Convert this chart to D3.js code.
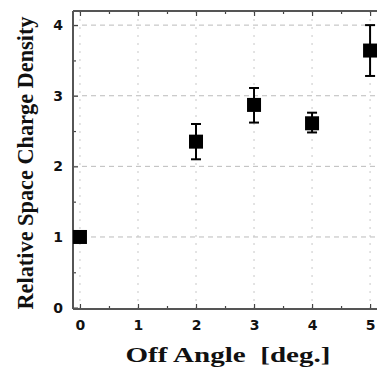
<!DOCTYPE html>
<html>
<head>
<meta charset="utf-8">
<script src="https://cdn.jsdelivr.net/npm/d3@7"></script>
<style>
  body { margin: 0; background: #fff; }
  svg { display: block; }
</style>
</head>
<body>
<script>
// data
var angles = [0, 2, 3, 4, 5];
var density = [1.0, 2.35, 2.87, 2.61, 3.64];
var errLow = [1.0, 2.1, 2.62, 2.48, 3.28];
var errHigh = [1.0, 2.6, 3.11, 2.76, 4.0];
var xTicks = [0, 1, 2, 3, 4, 5];
var yTicks = [0, 1, 2, 3, 4];

var width = 377, height = 367;
var pLeft = 73, pTop = 11, pRight = 384, pBottom = 309;

var svg = d3.select("body").append("svg")
  .attr("width", width)
  .attr("height", height)

var x = d3.scaleLinear().domain([-0.12, 5.24]).range([pLeft, pRight]);
var y = d3.scaleLinear().domain([-0.02, 4.2]).range([pBottom, pTop]);

// dotted grid
svg.append("g").selectAll("line").data(yTicks.slice(1)).enter().append("line")
  .attr("x1", pLeft).attr("x2", pRight)
  .attr("y1", function(d) { return y(d) }).attr("y2", function(d) { return y(d) })
  .attr("stroke", "#bbb").attr("stroke-width", 1).attr("stroke-dasharray", "5,4")

svg.append("g").selectAll("line").data(xTicks).enter().append("line")
  .attr("x1", function(d) { return x(d) }).attr("x2", function(d) { return x(d) })
  .attr("y1", pTop).attr("y2", pBottom)
  .attr("stroke", "#c8c8c8").attr("stroke-width", 1).attr("stroke-dasharray", "2,6")

// axes with inward ticks
var tickFont = "bold 14px 'DejaVu Sans', sans-serif";

var xAxis = svg.append("g").attr("transform", "translate(0," + pBottom + ")")
  .call(d3.axisBottom(x).tickValues(xTicks).tickSize(-5).tickPadding(11).tickFormat(d3.format("d")))
xAxis.select(".domain").remove()
xAxis.selectAll("text").style("font", tickFont).attr("fill", "#111")

svg.append("g").attr("transform", "translate(0," + pBottom + ")")
  .call(d3.axisBottom(x).tickValues(d3.range(0.5, 5.5, 1)).tickSize(-3).tickFormat(""))
  .select(".domain").remove()

var topAxis = svg.append("g").attr("transform", "translate(0," + pTop + ")")
  .call(d3.axisTop(x).tickValues(xTicks).tickSize(-5).tickFormat(""))
topAxis.select(".domain").remove()
svg.append("g").attr("transform", "translate(0," + pTop + ")")
  .call(d3.axisTop(x).tickValues(d3.range(0.5, 5.5, 1)).tickSize(-3).tickFormat(""))
  .select(".domain").remove()

var yAxis = svg.append("g").attr("transform", "translate(" + pLeft + ",0)")
  .call(d3.axisLeft(y).tickValues(yTicks).tickSize(-5).tickPadding(10).tickFormat(d3.format("d")))
yAxis.select(".domain").remove()
yAxis.selectAll("text").style("font", tickFont).attr("fill", "#111")

svg.append("g").attr("transform", "translate(" + pLeft + ",0)")
  .call(d3.axisLeft(y).tickValues(d3.range(0.5, 4.5, 1)).tickSize(-3).tickFormat(""))
  .select(".domain").remove()

svg.selectAll(".tick line").attr("stroke", "#444").attr("stroke-width", 1.2)

// frame lines
svg.append("line").attr("x1", pLeft).attr("x2", pLeft).attr("y1", pTop).attr("y2", pBottom)
  .attr("stroke", "#555").attr("stroke-width", 2)
svg.append("line").attr("x1", pLeft).attr("x2", pRight).attr("y1", pBottom).attr("y2", pBottom)
  .attr("stroke", "#555").attr("stroke-width", 2)
svg.append("line").attr("x1", pLeft).attr("x2", pRight).attr("y1", pTop).attr("y2", pTop)
  .attr("stroke", "#555").attr("stroke-width", 2)

// error bars
var pts = angles.map(function(a, i) {
  return { a: a, v: density[i], lo: errLow[i], hi: errHigh[i] }
}).filter(function(d) { return d.hi > d.lo })

var eb = svg.append("g").selectAll("g").data(pts).enter().append("g")
eb.append("line")
  .attr("x1", function(d) { return x(d.a) }).attr("x2", function(d) { return x(d.a) })
  .attr("y1", function(d) { return y(d.lo) }).attr("y2", function(d) { return y(d.hi) })
  .attr("stroke", "#000").attr("stroke-width", 2)
eb.append("line")
  .attr("x1", function(d) { return x(d.a) - 5 }).attr("x2", function(d) { return x(d.a) + 5 })
  .attr("y1", function(d) { return y(d.hi) }).attr("y2", function(d) { return y(d.hi) })
  .attr("stroke", "#000").attr("stroke-width", 2)
eb.append("line")
  .attr("x1", function(d) { return x(d.a) - 5 }).attr("x2", function(d) { return x(d.a) + 5 })
  .attr("y1", function(d) { return y(d.lo) }).attr("y2", function(d) { return y(d.lo) })
  .attr("stroke", "#000").attr("stroke-width", 2)

// square markers
var s = 14;
svg.append("g").selectAll("rect").data(angles).enter().append("rect")
  .attr("x", function(d) { return x(d) - s / 2 })
  .attr("y", function(d, i) { return y(density[i]) - s / 2 })
  .attr("width", s).attr("height", s)
  .attr("fill", "#000")

// axis titles
svg.append("text")
  .attr("x", 228).attr("y", 362)
  .attr("text-anchor", "middle")
  .style("font", "bold 21px 'Liberation Serif', 'Times New Roman', serif")
  .attr("fill", "#111")
  .attr("xml:space", "preserve")
  .attr("textLength", 205)
  .attr("lengthAdjust", "spacingAndGlyphs")
  .text("Off Angle  [deg.]")

svg.append("text")
  .attr("transform", "translate(33,163) rotate(-90)")
  .attr("text-anchor", "middle")
  .style("font", "bold 23px 'Liberation Serif', 'Times New Roman', serif")
  .attr("fill", "#111")
  .attr("textLength", 293)
  .attr("lengthAdjust", "spacingAndGlyphs")
  .text("Relative Space Charge Density")
</script>
</body>
</html>
